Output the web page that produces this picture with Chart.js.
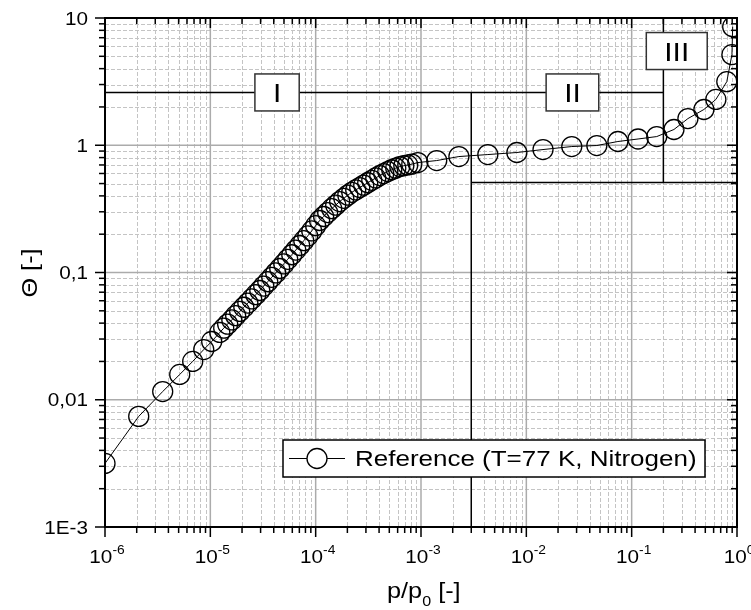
<!DOCTYPE html>
<html><head><meta charset="utf-8">
<script src="https://cdn.jsdelivr.net/npm/chart.js@4/dist/chart.umd.min.js"></script>
<style>body{margin:0;background:#fff}canvas{display:block}</style>
</head><body>
<canvas id="c" width="751" height="610"></canvas>
<script>
// ---- data ----
const pressure = [1e-6, 2.09e-6, 3.53e-6, 5.12e-6, 6.8e-6, 8.66e-6, 1.03e-5, 1.23e-5,
  1.34e-5, 1.46e-5, 1.6e-5, 1.74e-5, 1.9e-5, 2.08e-5, 2.27e-5, 2.47e-5, 2.7e-5, 2.95e-5,
  3.21e-5, 3.51e-5, 3.83e-5, 4.18e-5, 4.56e-5, 4.98e-5, 5.43e-5, 5.93e-5, 6.47e-5, 7.06e-5,
  7.71e-5, 8.41e-5, 9.18e-5, 1.0e-4, 1.09e-4, 1.19e-4, 1.3e-4, 1.42e-4, 1.55e-4, 1.69e-4,
  1.85e-4, 2.02e-4, 2.2e-4, 2.4e-4, 2.62e-4, 2.86e-4, 3.12e-4, 3.41e-4, 3.72e-4, 4.06e-4,
  4.43e-4, 4.84e-4, 5.28e-4, 5.76e-4, 6.29e-4, 6.87e-4, 7.49e-4, 8.18e-4,
  9.33e-4, 1.41e-3, 2.29e-3, 4.31e-3, 8.13e-3, 0.0144, 0.027, 0.0467, 0.074, 0.115,
  0.173, 0.252, 0.342, 0.485, 0.63, 0.80, 0.895, 0.91];
const coverage = [0.00316, 0.0074, 0.0116, 0.0158, 0.020, 0.0248, 0.0287, 0.0338,
  0.0365, 0.0393, 0.0424, 0.0458, 0.0494, 0.0533, 0.0575, 0.062, 0.0669, 0.0722,
  0.0782, 0.0847, 0.0917, 0.0993, 0.1075, 0.1168, 0.127, 0.1379, 0.15, 0.163,
  0.1778, 0.1939, 0.2122, 0.2332, 0.2562, 0.2754, 0.296, 0.3171, 0.3384, 0.3612,
  0.3827, 0.4055, 0.4266, 0.4456, 0.4653, 0.486, 0.5075, 0.53, 0.5535, 0.5781,
  0.5994, 0.6215, 0.642, 0.6606, 0.6802, 0.6902, 0.7003, 0.7104,
  0.731, 0.758, 0.815, 0.845, 0.877, 0.925, 0.977, 0.995, 1.07, 1.12,
  1.17, 1.33, 1.62, 1.91, 2.29, 3.16, 5.15, 8.55];
const seriesName = 'Reference (T=77 K, Nitrogen)';
const xTickExponents = [-6, -5, -4, -3, -2, -1, 0];
const yTickValues = [0.001, 0.01, 0.1, 1, 10];
const yTickLabels = ['1E-3', '0,01', '0,1', '1', '10'];
const xTitle = ['p/p', '0', ' [-]'];
const yTitle = 'Θ [-]';
// region boundary lines
const regionLineP = [[1e-6, 0.2], [0.003, 0.003], [0.003, 1], [0.2, 0.2]];
const regionLineTheta = [[2.6, 2.6], [0.001, 2.6], [0.51, 0.51], [0.51, 10]];
// region labels
const regionLabels = ['I', 'II', 'III'];
const regionLabelP = [4.3e-5, 0.0274, 0.268];
const regionLabelTheta = [2.6, 2.6, 5.5];

// ---- build datasets ----
const regionDatasets = regionLineP.map((ps, i) => ({
  data: ps.map((p, j) => ({x: p, y: regionLineTheta[i][j]})),
  showLine: true, borderColor: '#000', borderWidth: 1.5, pointRadius: 0, order: 2
}));
const mainDataset = {
  label: seriesName,
  data: pressure.map((p, i) => ({x: p, y: coverage[i]})),
  showLine: true, borderColor: '#000', borderWidth: 1, tension: 0,
  pointRadius: 10, pointBorderWidth: 1.3, pointBorderColor: '#000',
  pointBackgroundColor: 'rgba(0,0,0,0)', order: 1
};

const SX = 1.15;
const FONT = '"Liberation Sans", Arial, sans-serif';
function txt(ctx, s, x, y, size, align) {
  ctx.save();
  ctx.font = size + 'px ' + FONT;
  ctx.textBaseline = 'alphabetic';
  const w = ctx.measureText(s).width * SX;
  const x0 = align === 'center' ? x - w / 2 : align === 'right' ? x - w : x;
  ctx.translate(x0, y); ctx.scale(SX, 1);
  ctx.textAlign = 'left'; ctx.fillStyle = '#000';
  ctx.fillText(s, 0, 0);
  ctx.restore();
  return w;
}
function tw(ctx, s, size) { ctx.save(); ctx.font = size + 'px ' + FONT; const w = ctx.measureText(s).width * SX; ctx.restore(); return w; }
function seg(ctx, x1, y1, x2, y2) { ctx.beginPath(); ctx.moveTo(x1, y1); ctx.lineTo(x2, y2); ctx.stroke(); }

const decorPlugin = {
  id: 'decor',
  beforeDatasetsDraw(chart) {
    const {ctx, chartArea: a, scales: {x, y}} = chart;
    ctx.save();
    ctx.strokeStyle = '#c4c4c4'; ctx.lineWidth = 1; ctx.setLineDash([4, 2]);
    for (let e = -6; e < 0; e++) for (let m = 2; m <= 9; m++) {
      const px = Math.round(x.getPixelForValue(m * Math.pow(10, e))) + 0.5;
      seg(ctx, px, a.top, px, a.bottom);
    }
    for (let e = -3; e < 1; e++) for (let m = 2; m <= 9; m++) {
      const py = Math.round(y.getPixelForValue(m * Math.pow(10, e))) + 0.5;
      seg(ctx, a.left, py, a.right, py);
    }
    ctx.setLineDash([]); ctx.strokeStyle = '#ababab'; ctx.lineWidth = 1.5;
    xTickExponents.slice(1, -1).forEach(e => {
      const px = x.getPixelForValue(Math.pow(10, e)); seg(ctx, px, a.top, px, a.bottom);
    });
    yTickValues.slice(1, -1).forEach(v => {
      const py = y.getPixelForValue(v); seg(ctx, a.left, py, a.right, py);
    });
    ctx.restore();
  },
  afterDatasetsDraw(chart) {
    const {ctx, chartArea: a, scales: {x, y}} = chart;
    ctx.save();
    // region label boxes
    regionLabels.forEach((s, i) => {
      const cx = x.getPixelForValue(regionLabelP[i]);
      const cy = y.getPixelForValue(regionLabelTheta[i]);
      const w = tw(ctx, s, 26) + 36, h = 37;
      ctx.fillStyle = '#fff'; ctx.fillRect(cx - w / 2, cy - h / 2, w, h);
      ctx.strokeStyle = '#333'; ctx.lineWidth = 1.5; ctx.strokeRect(cx - w / 2, cy - h / 2, w, h);
      txt(ctx, s, cx, cy + 9.5, 26, 'center');
    });
    // frame
    ctx.strokeStyle = '#000'; ctx.lineWidth = 2;
    ctx.strokeRect(a.left, a.top, a.right - a.left, a.bottom - a.top);
    // ticks
    ctx.lineWidth = 1.5;
    for (let e = -6; e <= 0; e++) {
      const px = x.getPixelForValue(Math.pow(10, e));
      seg(ctx, px, a.bottom, px, a.bottom + 10);
      seg(ctx, px, a.top, px, a.top + 10);
      if (e < 0) for (let m = 2; m <= 9; m++) {
        const q = x.getPixelForValue(m * Math.pow(10, e));
        seg(ctx, q, a.bottom, q, a.bottom + 6);
        seg(ctx, q, a.top, q, a.top + 6);
      }
    }
    for (let e = -3; e <= 1; e++) {
      const py = y.getPixelForValue(Math.pow(10, e));
      seg(ctx, a.left - 10, py, a.left, py);
      seg(ctx, a.right - 10, py, a.right, py);
      if (e < 1) for (let m = 2; m <= 9; m++) {
        const q = y.getPixelForValue(m * Math.pow(10, e));
        seg(ctx, a.left - 6, q, a.left, q);
        seg(ctx, a.right - 6, q, a.right, q);
      }
    }
    ctx.restore();
  },
  afterDraw(chart) {
    const {ctx, chartArea: a, scales: {x, y}} = chart;
    ctx.save();
    // y tick labels
    yTickValues.forEach((v, i) => {
      txt(ctx, yTickLabels[i], a.left - 17, y.getPixelForValue(v) + 6.5, 18, 'right');
    });
    // x tick labels 10^e
    xTickExponents.forEach(e => {
      const px = x.getPixelForValue(Math.pow(10, e));
      const ex = String(e);
      const w1 = tw(ctx, '10', 18), w2 = tw(ctx, ex, 12);
      const x0 = px - (w1 + w2) / 2 + 2;
      txt(ctx, '10', x0, a.bottom + 36, 18, 'left');
      txt(ctx, ex, x0 + w1, a.bottom + 27, 12, 'left');
    });
    // x title
    let xx = 387;
    xx += txt(ctx, xTitle[0], xx, 598, 22, 'left');
    xx += txt(ctx, xTitle[1], xx, 606, 14, 'left');
    txt(ctx, xTitle[2], xx, 598, 22, 'left');
    // y title
    ctx.save();
    ctx.translate(37, 273); ctx.rotate(-Math.PI / 2);
    txt(ctx, yTitle, 0, 0, 22, 'center');
    ctx.restore();
    // legend
    const lx = 283, ly = 440, lw = 422, lh = 37;
    ctx.fillStyle = '#fff'; ctx.fillRect(lx, ly, lw, lh);
    ctx.strokeStyle = '#000'; ctx.lineWidth = 1.5; ctx.strokeRect(lx, ly, lw, lh);
    const my = ly + lh / 2;
    ctx.lineWidth = 1;
    seg(ctx, 289, my, 307, my); seg(ctx, 327, my, 345, my);
    ctx.lineWidth = 1.3;
    ctx.beginPath(); ctx.arc(317, my, 10, 0, Math.PI * 2); ctx.stroke();
    txt(ctx, seriesName, 355, 466, 22.6, 'left');
    ctx.restore();
  }
};

new Chart(document.getElementById('c'), {
  type: 'scatter',
  data: {datasets: [mainDataset, ...regionDatasets]},
  options: {
    responsive: false, animation: false, events: [],
    layout: {padding: {left: 105, right: 14, top: 18, bottom: 83}},
    plugins: {legend: {display: false}, tooltip: {enabled: false}},
    scales: {
      x: {type: 'logarithmic', min: 1e-6, max: 1, display: false},
      y: {type: 'logarithmic', min: 1e-3, max: 10, display: false}
    }
  },
  plugins: [decorPlugin]
});
</script>
</body></html>
